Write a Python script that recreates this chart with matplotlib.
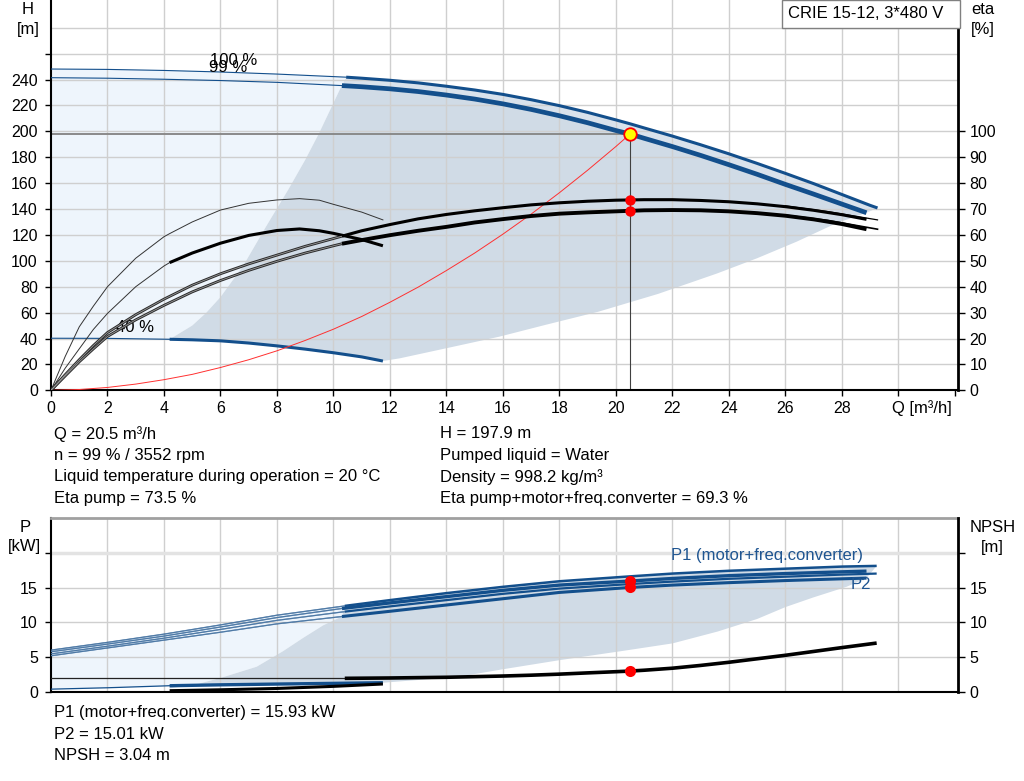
import matplotlib
matplotlib.use("Agg")
import matplotlib.pyplot as plt
from matplotlib.patches import Rectangle
import numpy as np

plt.rcParams['font.family'] = ['Liberation Sans', 'DejaVu Sans']

# ---------------- DATA ----------------
# Top chart: flow Q [m3/h], head H [m]
q_h100 = [0, 2, 4, 6, 8, 10.45, 11, 12, 13, 14, 15, 16, 17, 18, 19, 20, 20.5, 21, 22, 23, 24, 25, 26, 27, 28, 29, 29.26]
h_h100 = [248.1, 247.8, 247.0, 245.8, 244.2, 241.8, 241.0, 239.4, 237.4, 234.8, 231.9, 228.5, 224.4, 219.8, 214.6,
          208.8, 205.8, 202.6, 196.3, 189.6, 182.6, 175.2, 167.5, 159.6, 151.2, 142.8, 140.8]
q_h99 = [0, 2, 4, 6, 8, 10.3, 11, 12, 13, 14, 15, 16, 17, 18, 19, 20, 20.5, 21, 22, 23, 24, 25, 26, 27, 28, 28.87]
h_h99 = [241.4, 241.0, 240.2, 239.2, 237.8, 235.3, 234.4, 232.8, 230.7, 228.0, 224.9, 221.2, 216.9, 212.0, 206.6,
         200.6, 197.9, 194.6, 188.2, 181.4, 174.2, 166.8, 159.0, 151.5, 143.8, 137.1]
q_h40 = [0, 2, 4.2, 5, 6, 7, 8, 9, 10, 11, 11.75]
h_h40 = [40.2, 40.1, 39.4, 39.0, 38.2, 36.5, 34.3, 31.8, 29.0, 25.8, 22.6]

# operating-range boundaries (top chart)
q_bnd_left = [4.2, 5.0, 5.5, 6.0, 6.8, 7.6, 8.4, 9.0, 9.5, 10.29]
h_bnd_left = [39.4, 50, 60, 72, 96, 126, 155, 178, 199, 235.3]
q_bnd_low = [11.75, 12.35, 14, 15.87, 17.5, 19.38, 21.5, 23.59, 25, 26.4, 27.8, 28.87]
h_bnd_low = [22.6, 24.7, 32.5, 41.4, 50.5, 60.7, 74.5, 90.3, 102, 114.8, 129, 137.1]

# efficiency curves [%]
q_eta = [0, 0.5, 1, 1.5, 2, 3, 4, 5, 6, 7, 8, 9, 10, 10.3, 11, 12, 13, 14, 15, 16, 17, 18, 19, 20, 20.5,
         21, 22, 23, 24, 25, 26, 27, 28, 28.87]
eta_pump = [0, 6, 11.8, 17.3, 22.3, 29.2, 35.2, 40.6, 45.0, 48.8, 52.2, 55.6, 58.6, 59.5, 61.6, 64.0, 66.2,
            67.9, 69.3, 70.5, 71.6, 72.4, 73.0, 73.4, 73.5, 73.6, 73.6, 73.3, 72.8, 72.0, 70.9, 69.5, 67.8, 66.0]
eta_total = [0, 5.5, 11, 16, 20.8, 27.2, 32.8, 38, 42.4, 46.3, 49.8, 53, 55.8, 56.6, 58.0, 59.9, 61.6,
             63.1, 64.8, 66.1, 67.3, 68.2, 68.7, 69.1, 69.3, 69.5, 69.6, 69.5, 69.1, 68.4, 67.4, 66.0, 64.2, 62.2]
q_eta_ext = [26, 27.5, 29.26]
eta_pump_ext = [71.2, 69.0, 65.8]
eta_total_ext = [67.6, 65.6, 62.2]
q_eta40 = [0, 0.5, 1, 1.5, 2, 3, 4, 4.2, 5, 6, 7, 8, 8.8, 9.5, 10, 11, 11.75]
eta40_pump = [0, 13, 24.5, 32.5, 40, 51, 59.3, 60.5, 65, 69.6, 72.2, 73.5, 74.0, 73.4, 71.8, 68.8, 65.8]
eta40_total = [0, 8.5, 16, 23.5, 29.7, 40, 48, 49.3, 53, 56.8, 59.8, 61.7, 62.3, 61.6, 60.6, 58.2, 55.8]

# system curve
q_sys = [0, 1, 2, 3, 4, 5, 6, 7, 8, 9, 10, 11, 12, 13, 14, 15, 16, 17, 18, 19, 20, 20.5]
h_sys = [0, 0.6, 2.2, 4.8, 8.2, 12.3, 17.6, 23.6, 30.5, 38.5, 47.2, 57, 68, 79.7, 92.5, 106, 120.6, 136.1,
         152.6, 170, 188.3, 197.9]

# duty point
q_duty = 20.5
h_duty = 197.9
eta_pump_duty = 73.5
eta_total_duty = 69.3

# Bottom chart: power P [kW], NPSH [m]
q_p100 = [0, 2, 4, 6, 8, 10.4, 12, 14, 16, 18, 20.5, 22, 24, 26, 28, 29.23]
p1_100 = [6.04, 7.15, 8.33, 9.65, 11.04, 12.37, 13.2, 14.2, 15.1, 15.9, 16.6, 17.0, 17.4, 17.7, 18.0, 18.1]
p2_100 = [5.5, 6.6, 7.75, 9.0, 10.3, 11.55, 12.3, 13.2, 14.1, 14.85, 15.5, 15.85, 16.25, 16.55, 16.85, 17.0]
q_p99 = [0, 2, 4, 6, 8, 10.3, 12, 14, 16, 18, 20.5, 22, 24, 26, 28, 28.87]
p1_99 = [5.8, 6.9, 8.05, 9.35, 10.7, 12.0, 12.8, 13.7, 14.6, 15.35, 15.93, 16.3, 16.7, 17.0, 17.25, 17.35]
p2_99 = [5.23, 6.35, 7.47, 8.6, 9.8, 10.85, 11.6, 12.5, 13.4, 14.3, 15.01, 15.35, 15.7, 16.0, 16.25, 16.35]
q_p40 = [0, 2, 4.2, 6, 8, 10, 11.75]
p_40 = [0.45, 0.65, 0.94, 1.07, 1.18, 1.28, 1.37]

q_npsh = [0, 10.4, 12, 14, 16, 17, 18, 19, 20, 20.5, 21, 22, 23, 24, 25, 26, 27, 28, 29.23]
npsh = [2.0, 2.0, 2.05, 2.15, 2.33, 2.45, 2.6, 2.78, 2.95, 3.04, 3.16, 3.45, 3.85, 4.3, 4.8, 5.3, 5.85, 6.4, 7.05]
q_npsh40 = [4.2, 6, 8, 10, 11.75]
npsh_40 = [0.23, 0.36, 0.55, 0.85, 1.19]

q_pbnd_left = [4.2, 5.2, 6.04, 7.28, 8.22, 8.93, 9.64, 10.3]
p_pbnd_left = [0.57, 1.2, 2.1, 3.66, 5.9, 7.8, 9.6, 10.85]
q_pbnd_low = [11.75, 14.4, 16, 18, 20.2, 22, 23.6, 25, 26, 27, 28.16, 28.87]
p_pbnd_low = [1.37, 2.2, 3.3, 4.6, 5.9, 7.0, 8.7, 10.5, 12.2, 13.6, 15.1, 16.35]

p1_duty = 15.93
p2_duty = 15.01
npsh_duty = 3.04

x_ticks = [0, 2, 4, 6, 8, 10, 12, 14, 16, 18, 20, 22, 24, 26, 28, 30, 32]
x_tick_labels = ['0', '2', '4', '6', '8', '10', '12', '14', '16', '18', '20', '22', '24', '26', '28', '', '']
h_ticks = [0, 20, 40, 60, 80, 100, 120, 140, 160, 180, 200, 220, 240, 260]
h_tick_labels = ['0', '20', '40', '60', '80', '100', '120', '140', '160', '180', '200', '220', '240', '']
eta_ticks = [0, 10, 20, 30, 40, 50, 60, 70, 80, 90, 100]
p_ticks = [0, 5, 10, 15, 20]
p_tick_labels = ['0', '5', '10', '15', '']

info_left = ["Q = 20.5 m³/h", "n = 99 % / 3552 rpm",
             "Liquid temperature during operation = 20 °C", "Eta pump = 73.5 %"]
info_right = ["H = 197.9 m", "Pumped liquid = Water", "Density = 998.2 kg/m³",
              "Eta pump+motor+freq.converter = 69.3 %"]
info_bottom = ["P1 (motor+freq.converter) = 15.93 kW", "P2 = 15.01 kW", "NPSH = 3.04 m"]

# ---------------- STYLE ----------------
BLUE = '#134f8c'
GRAY_FILL = '#d0dbe6'
BAND_FILL = '#d9e2ec'
LIGHT_FILL = '#eef5fc'
GRID = '#cfcfcf'
FS = 12
TFS = 11.5

W, H = 1024, 781
fig = plt.figure(figsize=(W / 100, H / 100), dpi=100)

X0, X1 = 51, 958.3
XMAX = 32.12

def fx(px):
    return px / W

def fy(py):
    return 1 - py / H

def seg(q, v, lo, hi):
    q = np.asarray(q, float); v = np.asarray(v, float)
    m = (q >= lo - 1e-9) & (q <= hi + 1e-9)
    return q[m], v[m]

# ---------------- TOP AXES ----------------
ax = fig.add_axes([fx(X0), fy(390.3), (X1 - X0) / W, 390.3 / H])
HMAX = 301.4
ax.set_xlim(0, XMAX)
ax.set_ylim(0, HMAX)

for xv in range(2, 31, 2):
    ax.axvline(xv, color=GRID, lw=1.0, zorder=1)
for hv in range(20, 281, 20):
    ax.axhline(hv, color=GRID, lw=1.0, zorder=1)

# light region
qa, ha = seg(q_h40, h_h40, 0, 4.2)
qr, hr = seg(q_h100, h_h100, 0, 10.45)
lx = list(qa) + list(q_bnd_left[1:]) + list(qr[::-1])
ly = list(ha) + list(h_bnd_left[1:]) + list(hr[::-1])
ax.fill(lx, ly, color=LIGHT_FILL, lw=0, zorder=0.5)

# gray region
qa, ha = seg(q_h40, h_h40, 4.2, 11.75)
qt, ht = seg(q_h99, h_h99, 10.3, 28.87)
gx = list(qa) + list(q_bnd_low[1:]) + list(qt[::-1][1:]) + list(q_bnd_left[::-1])
gy = list(ha) + list(h_bnd_low[1:]) + list(ht[::-1][1:]) + list(h_bnd_left[::-1])
ax.fill(gx, gy, color=GRAY_FILL, lw=0, zorder=0.6)

# band between 99 % and 100 %
q1, h1 = seg(q_h100, h_h100, 10.45, 29.26)
bx = list(qt) + list(q1[::-1])
by = list(ht) + list(h1[::-1])
ax.fill(bx, by, color=BAND_FILL, lw=0, zorder=0.6)

# duty lines
ax.plot([0, q_duty], [h_duty, h_duty], color='#8a8a8a', lw=1.4, zorder=2)
ax.plot([q_duty, q_duty], [0, h_duty], color='#404040', lw=0.8, zorder=2)

# QH curves
q, h = seg(q_h100, h_h100, 0, 10.45)
ax.plot(q, h, color=BLUE, lw=0.8, zorder=3)
q, h = seg(q_h100, h_h100, 10.45, 30)
ax.plot(q, h, color=BLUE, lw=2.2, zorder=3, solid_capstyle='butt')
q, h = seg(q_h99, h_h99, 0, 10.3)
ax.plot(q, h, color=BLUE, lw=0.8, zorder=3)
q, h = seg(q_h99, h_h99, 10.3, 30)
ax.plot(q, h, color=BLUE, lw=3.4, zorder=3, solid_capstyle='butt')
q, h = seg(q_h40, h_h40, 0, 4.2)
ax.plot(q, h, color=BLUE, lw=0.8, zorder=3)
q, h = seg(q_h40, h_h40, 4.2, 12)
ax.plot(q, h, color=BLUE, lw=2.2, zorder=3, solid_capstyle='butt')

# system curve
ax.plot(q_sys, h_sys, color='#ff3030', lw=0.7, zorder=3)

ax.text(6.48, 255, '100 %', fontsize=FS, ha='center', va='center', zorder=4)
ax.text(6.27, 249.3, '99 %', fontsize=FS, ha='center', va='center', zorder=4)
ax.text(2.99, 48.5, '40 %', fontsize=FS, ha='center', va='center', zorder=4)

ax.set_xticks(x_ticks)
ax.set_xticklabels(x_tick_labels)
ax.set_yticks(h_ticks)
ax.set_yticklabels(h_tick_labels)
ax.tick_params(axis='both', direction='out', length=4.5, width=1.0, labelsize=TFS, color='black')
ax.tick_params(axis='y', pad=5)
ax.tick_params(axis='x', pad=3)
ax.spines['top'].set_visible(False)
ax.spines['right'].set_visible(False)
ax.spines['left'].set_linewidth(1.5)
ax.spines['bottom'].set_linewidth(1.5)

# eta axis
ax2 = ax.twinx()
ax2.set_ylim(0, HMAX / 2)
ax2.set_yticks(eta_ticks)
ax2.tick_params(axis='y', direction='out', length=5, width=1.0, labelsize=TFS, pad=3)
ax2.spines['top'].set_visible(False)
ax2.spines['left'].set_visible(False)
ax2.spines['bottom'].set_visible(False)
ax2.spines['right'].set_linewidth(2.0)

def double_line(axx, q, v, lw_out=2.0, lw_in=0.6, z=4):
    axx.plot(q, v, color='#2a2a2a', lw=lw_out, zorder=z, solid_capstyle='butt')
    axx.plot(q, v, color='#9a9a9a', lw=lw_in, zorder=z + 0.1, solid_capstyle='butt')

q, e = seg(q_eta, eta_pump, 0, 10.3)
double_line(ax2, q, e)
q, e = seg(q_eta, eta_pump, 10.3, 30)
ax2.plot(q, e, color='black', lw=2.2, zorder=4, solid_capstyle='butt')
ax2.plot(q_eta_ext, eta_pump_ext, color='black', lw=0.9, zorder=4)
q, e = seg(q_eta, eta_total, 0, 10.3)
double_line(ax2, q, e)
q, e = seg(q_eta, eta_total, 10.3, 30)
ax2.plot(q, e, color='black', lw=2.8, zorder=4, solid_capstyle='butt')
ax2.plot(q_eta_ext, eta_total_ext, color='black', lw=1.2, zorder=4)

ax2.plot(q_eta40, eta40_pump, color='#333333', lw=0.7, zorder=4)
q, e = seg(q_eta40, eta40_total, 0, 4.2)
ax2.plot(q, e, color='#333333', lw=0.7, zorder=4)
q, e = seg(q_eta40, eta40_total, 4.2, 12)
ax2.plot(q, e, color='black', lw=2.2, zorder=4, solid_capstyle='butt')

ax2.plot([q_duty], [eta_pump_duty], 'o', color='#ff0000', ms=7.5, mew=0, zorder=5)
ax2.plot([q_duty], [eta_total_duty], 'o', color='#ff0000', ms=7.5, mew=0, zorder=5)
ax2.plot([q_duty], [h_duty / 2], 'o', mfc='#ffff00', mec='#ff0000', ms=9, mew=1.3, zorder=6)

# ---------------- BOTTOM AXES ----------------
bx_ = fig.add_axes([fx(X0), fy(692.3), (X1 - X0) / W, (692.3 - 517.7) / H])
bx_.set_xlim(0, XMAX)
bx_.set_ylim(0, 25)
for xv in range(2, 31, 2):
    bx_.axvline(xv, color=GRID, lw=1.0, zorder=1)
for pv in [5, 10, 15]:
    bx_.axhline(pv, color=GRID, lw=1.0, zorder=1)
bx_.axhline(20, color='#e3e3e3', lw=2.5, zorder=1)

# light region
qa, pa = seg(q_p40, p_40, 0, 4.2)
qr, pr = seg(q_p100, p1_100, 0, 10.4)
lx = list(qa) + list(q_pbnd_left[1:]) + list(qr[::-1])
ly = list(pa) + list(p_pbnd_left[1:]) + list(pr[::-1])
bx_.fill(lx, ly, color=LIGHT_FILL, lw=0, zorder=0.5)

# gray region
qa, pa = seg(q_p40, p_40, 4.2, 11.75)
qt, pt = seg(q_p100, p1_100, 10.4, 30)
gx = list(qa) + list(q_pbnd_low[1:]) + list(qt[::-1]) + list(q_pbnd_left[::-1])
gy = list(pa) + list(p_pbnd_low[1:]) + list(pt[::-1]) + list(p_pbnd_left[::-1])
bx_.fill(gx, gy, color=GRAY_FILL, lw=0, zorder=0.6)

def thin_hatched(axx, q, v):
    axx.plot(q, v, color=BLUE, lw=0.9, zorder=3)
    axx.plot(q, v, color='#9fb3c8', lw=0.3, zorder=3.1)

for qq, pp, lw_ in [(q_p100, p1_100, 1.8), (q_p99, p1_99, 2.4), (q_p100, p2_100, 1.6), (q_p99, p2_99, 2.2)]:
    split_at = qq[5]
    q, p = seg(qq, pp, 0, split_at)
    thin_hatched(bx_, q, p)
    q, p = seg(qq, pp, split_at, 30)
    bx_.plot(q, p, color=BLUE, lw=lw_, zorder=3, solid_capstyle='butt')

q, p = seg(q_p40, p_40, 0, 4.2)
bx_.plot(q, p, color=BLUE, lw=0.9, zorder=3)
q, p = seg(q_p40, p_40, 4.2, 12)
bx_.plot(q, p, color=BLUE, lw=2.4, zorder=3, solid_capstyle='butt')

bx_.text(25.36, 19.6, 'P1 (motor+freq.converter)', color='#1f5591', fontsize=FS,
         ha='center', va='center', zorder=5)
bx_.text(28.67, 15.5, 'P2', color='#1f5591', fontsize=FS, ha='center', va='center', zorder=5)

bx_.plot([q_duty], [p1_duty], 'o', color='#ff0000', ms=8, mew=0, zorder=6)
bx_.plot([q_duty], [p2_duty], 'o', color='#ff0000', ms=8, mew=0, zorder=6)

bx_.set_xticks([])
bx_.set_yticks(p_ticks)
bx_.set_yticklabels(p_tick_labels)
bx_.tick_params(axis='y', direction='out', length=4.5, width=1.0, labelsize=TFS, pad=5)
bx_.spines['top'].set_color('#a0a0a0')
bx_.spines['top'].set_linewidth(2.0)
bx_.spines['right'].set_visible(False)
bx_.spines['left'].set_linewidth(1.5)
bx_.spines['bottom'].set_linewidth(1.5)

bx2 = bx_.twinx()
bx2.set_ylim(0, 25)
bx2.set_yticks(p_ticks)
bx2.set_yticklabels(p_tick_labels)
bx2.tick_params(axis='y', direction='out', length=5, width=1.0, labelsize=TFS, pad=3)
for s in ['top', 'left', 'bottom']:
    bx2.spines[s].set_visible(False)
bx2.spines['right'].set_linewidth(2.0)

q, n = seg(q_npsh, npsh, 0, 10.4)
bx2.plot(q, n, color='#222222', lw=0.9, zorder=4)
q, n = seg(q_npsh, npsh, 10.4, 30)
bx2.plot(q, n, color='black', lw=2.6, zorder=4, solid_capstyle='butt')
bx2.plot(q_npsh40, npsh_40, color='black', lw=2.2, zorder=2.5, solid_capstyle='butt')
bx2.plot([q_duty], [npsh_duty], 'o', color='#ff0000', ms=8, mew=0, zorder=6)

# ---------------- TEXTS ----------------
def ftxt(px, py, s, ha='left', **kw):
    fig.text(fx(px), fy(py), s, ha=ha, va='center', fontsize=FS, **kw)

ftxt(27.5, 9.5, 'H', ha='center')
ftxt(28.3, 29.7, '[m]', ha='center')
ftxt(983, 9.5, 'eta', ha='center')
ftxt(982.5, 29.7, '[%]', ha='center')
ftxt(25.5, 527, 'P', ha='center')
ftxt(24.5, 546.5, '[kW]', ha='center')
ftxt(992.7, 527.5, 'NPSH', ha='center')
ftxt(992.7, 547.5, '[m]', ha='center')
ftxt(921.7, 408, 'Q [m³/h]', ha='center')

for i, s in enumerate(info_left):
    ftxt(54, 434 + i * 21.5, s)
for i, s in enumerate(info_right):
    ftxt(440.5, 434 + i * 21.5, s)
for i, s in enumerate(info_bottom):
    ftxt(54, 713 + i * 21.5, s)

# title box
fig.add_artist(Rectangle((fx(781.7), fy(28.3)), (960.3 - 781.7) / W, 28.3 / H,
                         transform=fig.transFigure, fc='white', ec='#808080', lw=1.0, zorder=5))
fig.text(fx(788), fy(13.3), 'CRIE 15-12, 3*480 V', ha='left', va='center', fontsize=FS, zorder=6)

fig.savefig('out.png', dpi=100)
